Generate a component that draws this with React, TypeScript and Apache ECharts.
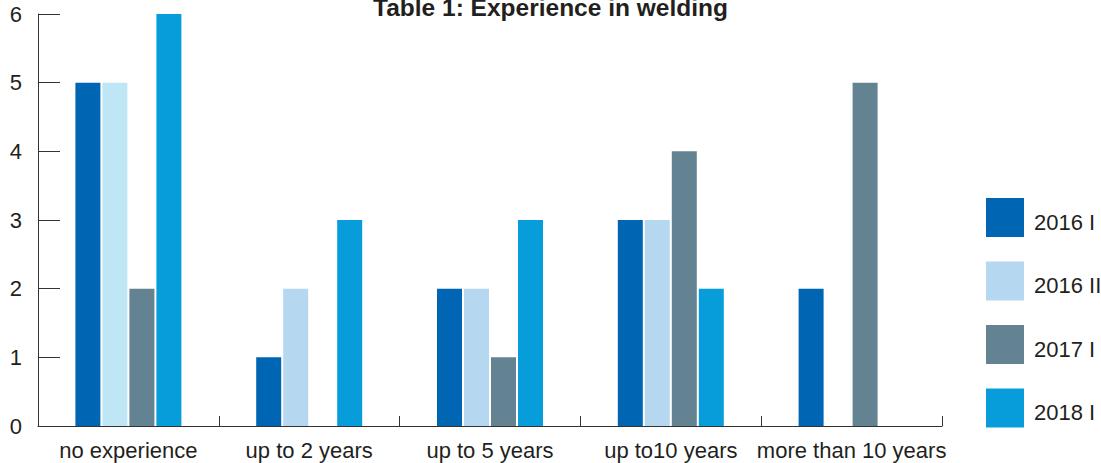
import React, { useEffect, useRef } from "react";
import * as echarts from "echarts";

const categories = ["no experience", "up to 2 years", "up to 5 years", "up to10 years", "more than 10 years"];
const seriesNames = ["2016 I", "2016 II", "2017 I", "2018 I"];
const values2016I = [5, 1, 2, 3, 2];
const values2016II = [5, 2, 2, 3, null];
const values2017I = [2, null, 1, 4, 5];
const values2018I = [6, 3, 3, 2, null];
const colors = ["#0066B3", "#B5D7F0", "#638393", "#079DDB"];
const firstLightColor = "#BEE6F5";
const titleText = "Table 1: Experience in welding";

const FONT = "'Liberation Sans', Arial, Helvetica, sans-serif";

export default function App() {
  const ref = useRef<HTMLDivElement>(null);
  useEffect(() => {
    if (!ref.current) return;
    const chart = echarts.init(ref.current, null, { renderer: "svg" });
    const allValues = [values2016I, values2016II, values2017I, values2018I];
    const series = allValues.map((vals, i) => ({
      name: seriesNames[i],
      type: "bar",
      barWidth: 25,
      barGap: "8%",
      itemStyle: { color: colors[i] },
      data: vals.map((v, j) => {
        if (v === null) return "-";
        if (i === 1 && j === 0) return { value: v, itemStyle: { color: firstLightColor } };
        return v;
      }),
    }));
    chart.setOption({
      animation: false,
      backgroundColor: "#ffffff",
      textStyle: { fontFamily: FONT },
      title: {
        text: titleText,
        left: "center",
        top: -10,
        textStyle: { fontFamily: FONT, fontSize: 24.5, fontWeight: "bold", color: "#231F20" },
      },
      legend: {
        orient: "vertical",
        left: 981,
        top: 193,
        itemWidth: 38,
        itemHeight: 39,
        itemGap: 24.5,
        icon: "rect",
        data: seriesNames,
        formatter: "{s| }\n{n|{name}}",
        textStyle: {
          fontFamily: FONT,
          fontSize: 22,
          color: "#231F20",
          padding: [0, 0, 0, 5],
          rich: {
            s: { fontSize: 8, lineHeight: 9 },
            n: { fontFamily: FONT, fontSize: 22, color: "#231F20", lineHeight: 26 },
          },
        },
      },
      grid: { left: 38, right: 159, top: 14, bottom: 37, containLabel: false },
      xAxis: {
        type: "category",
        data: categories,
        axisLine: { show: true, lineStyle: { color: "#333", width: 1 } },
        axisTick: { show: true, inside: true, length: 10, lineStyle: { color: "#333" } },
        axisLabel: { fontFamily: FONT, fontSize: 22, color: "#231F20", margin: 13, interval: 0 },
      },
      yAxis: {
        type: "value",
        min: 0,
        max: 6,
        interval: 1,
        splitLine: { show: false },
        axisLine: { show: true, lineStyle: { color: "#333", width: 1 } },
        axisTick: { show: true, inside: true, length: 22, lineStyle: { color: "#333" } },
        axisLabel: { fontFamily: FONT, fontSize: 22, color: "#231F20", margin: 16, padding: [12, 0, 0, 0] },
      },
      series,
    });
    return () => chart.dispose();
  }, []);
  return <div ref={ref} style={{ width: 1101, height: 463, position: "absolute", left: 0, top: 0 }} />;
}
